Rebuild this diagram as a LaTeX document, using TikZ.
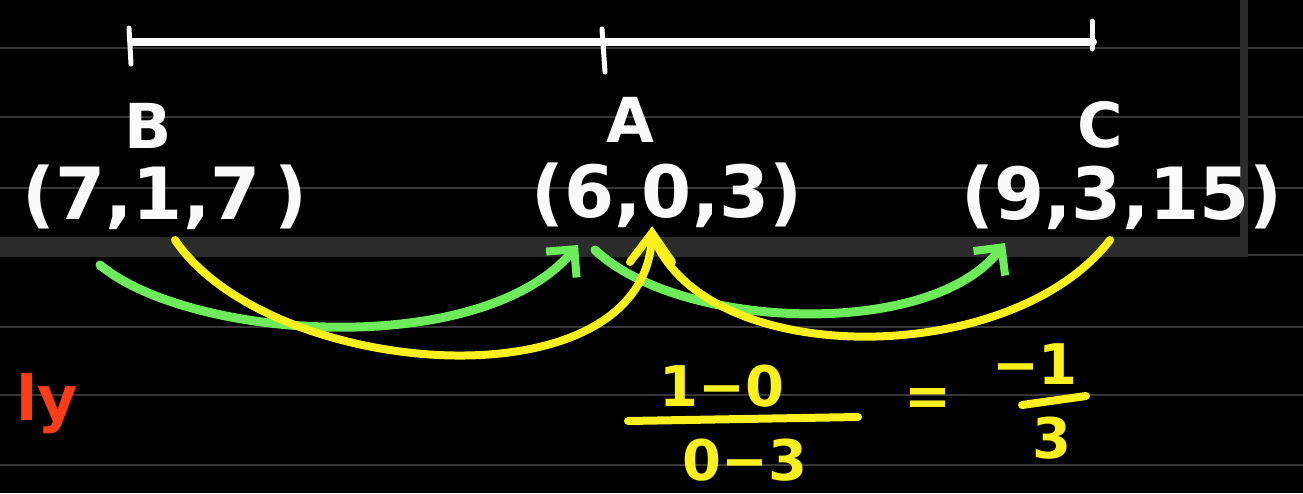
\documentclass[tikz,border=0pt]{standalone}
\usepackage{fontspec}
\setmainfont{DejaVu Sans}
\usetikzlibrary{arrows.meta}
\definecolor{gridc}{RGB}{55,55,55}
\definecolor{bandc}{RGB}{44,44,44}
\definecolor{penwhite}{RGB}{250,250,250}
\definecolor{pengreen}{RGB}{110,235,90}
\definecolor{penyellow}{RGB}{250,240,30}
\definecolor{penred}{RGB}{250,60,25}
\tikzset{
  gridline/.style={draw=gridc, line width=2pt},
  whitepen/.style={draw=penwhite, line width=8pt, line cap=round},
  tickpen/.style={draw=penwhite, line width=5pt, line cap=round},
  letter/.style={text=penwhite, font=\fontsize{62}{66}\selectfont\bfseries, inner sep=0pt},
  coordtxt/.style={text=penwhite, font=\fontsize{72}{78}\selectfont\bfseries, inner sep=0pt},
  greenpen/.style={draw=pengreen, line width=9pt, line cap=round,
    -{Straight Barb[length=20pt,width=40pt,line width=8pt]}},
  yellowpen/.style={draw=penyellow, line width=8pt, line cap=round},
  yellowtxt/.style={text=penyellow, font=\fontsize{56}{60}\selectfont\bfseries, inner sep=0pt},
  redtxt/.style={text=penred, font=\fontsize{62}{66}\selectfont\bfseries, inner sep=0pt},
}
\begin{document}
\begin{tikzpicture}[x=1pt,y=-1pt]
\useasboundingbox (0,0) rectangle (1303,493);
\fill[black] (0,0) rectangle (1303,493);
% ruled background
\foreach \yy in {48,117,188,327,395,465}{
  \draw[gridline] (0,\yy) -- (1303,\yy);
}
\fill[bandc] (0,237) rectangle (1246,257);
\draw[gridline] (1246,255) -- (1303,255);
\fill[bandc] (1240,0) rectangle (1248,257);

% top segment with ticks
\coordinate (L) at (133,42);
\coordinate (R) at (1093,42);
\draw[whitepen] (L) -- (R);
\draw[tickpen] (129,28) -- (131,64);
\draw[tickpen] (602,29) -- (605,72);
\draw[tickpen] (1092,21) -- (1092,49);

% labels
\node[letter] (Bn) at (148,126) {B};
\node[letter] (An) at (630,120) {A};
\node[letter] (Cn) at (1100,125) {C};

\node[coordtxt] (Bc) at (165,197) {(7,1,7\hspace{14pt})};
\node[coordtxt] (Ac) at (667,195) {(6,0,3)};
\node[coordtxt] (Cc) at (1122,197) {(9,3,15)};

% connector end points
\coordinate (g1s) at (100,265);
\coordinate (g1e) at (578,245);
\coordinate (g2s) at (595,250);
\coordinate (g2e) at (1005,243);
\coordinate (y1s) at (175,240);
\coordinate (ytop) at (652,233);
\coordinate (y2s) at (1110,240);

% green arrows
\draw[greenpen] (g1s) .. controls (190,340) and (480,360) .. (g1e);
\draw[greenpen] (g2s) .. controls (680,330) and (930,340) .. (g2e);

% yellow arrows
\draw[yellowpen] (y1s) .. controls (270,380) and (650,410) .. (ytop);
\draw[yellowpen] (y2s) .. controls (1010,370) and (700,370) .. (ytop);
\draw[yellowpen] (630,262) -- (ytop) -- (672,262);

% yellow fraction
\node[yellowtxt] (num) at (722,386) {1−0};
\node[yellowtxt] (den) at (745,460) {0−3};
\draw[yellowpen] (628,421) -- (858,417);
\node[yellowtxt] (eq) at (928,402) {=};
\node[yellowtxt] (rnum) at (1035,364) {−1};
\node[yellowtxt] (rden) at (1052,438) {3};
\draw[yellowpen] (1022,405) -- (1086,396);

% red fragment at the left edge
\node[redtxt, anchor=east] (red) at (78,404) {ly};
\end{tikzpicture}
\end{document}
